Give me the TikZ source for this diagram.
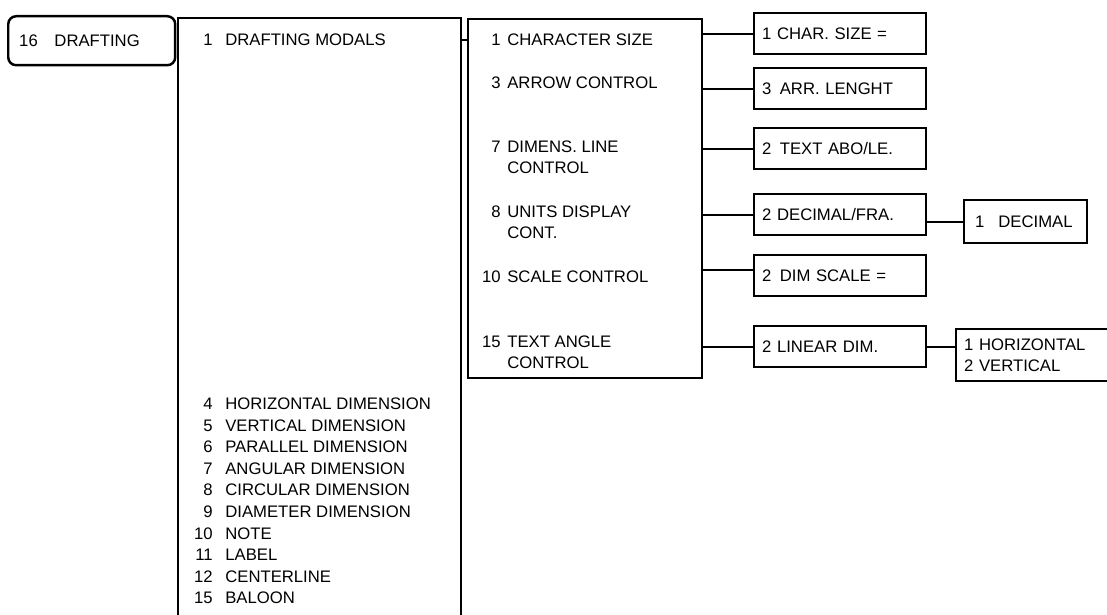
\documentclass[tikz,border=0pt]{standalone}
\usepackage{fontspec}
\setmainfont{Liberation Sans}
\usetikzlibrary{positioning,calc}
\tikzset{
  box/.style={draw=black,line width=1.4pt,fill=white},
  draftbox/.style={box,rounded corners=4.5pt,anchor=north west,minimum width=3.34cm,minimum height=0.98cm,text width=2.9cm,inner xsep=0.22cm,align=left},
  colbox/.style={box,anchor=north west},
  sub/.style={box,anchor=north west,minimum height=0.82cm,text width=3.12cm,inner xsep=0.16cm,align=left},
  conn/.style={line width=1.1pt,draw=black},
  lbl/.style={anchor=west,inner sep=0pt,align=left},
  num/.style={lbl,anchor=east}
}
\begin{document}
\begin{tikzpicture}[x=0.02cm,y=-0.02cm,font=\fontsize{9.5}{12}\selectfont]
  \useasboundingbox (0,0) rectangle (1107,615);
  % menu columns
  \node[draftbox] (draft) at (7,15) {16\quad DRAFTING};
  \node[colbox,minimum width=5.66cm,minimum height=12.3cm] (modals) at (177,17) {};
  \node[num] (mn) at (213,40) {1};
  \node[lbl] (mt) at (225,40) {DRAFTING MODALS};
  \foreach \n/\t [count=\k] in {4/HORIZONTAL DIMENSION,5/VERTICAL DIMENSION,6/PARALLEL DIMENSION,7/ANGULAR DIMENSION,8/CIRCULAR DIMENSION,9/DIAMETER DIMENSION,10/NOTE,11/LABEL,12/CENTERLINE,15/BALOON}{
    \node[num] (ln\k) at (213,{404+21.55*(\k-1)}) {\n};
    \node[lbl] (lt\k) at (225,{404+21.55*(\k-1)}) {\t};
  }
  \node[colbox,minimum width=4.68cm,minimum height=7.18cm] (ctrl) at (467,18) {};
  \node[num] (cn1) at (501,40) {1};  \node[lbl] (ct1) at (507,40) {CHARACTER SIZE};
  \node[num] (cn2) at (501,83) {3};  \node[lbl] (ct2) at (507,83) {ARROW CONTROL};
  \node[num] (cn3) at (501,147) {7}; \node[lbl] (ct3) at (507,157.5) {DIMENS. LINE\\CONTROL};
  \node[num] (cn4) at (501,212) {8}; \node[lbl] (ct4) at (507,222.5) {UNITS DISPLAY\\CONT.};
  \node[num] (cn5) at (501,277) {10}; \node[lbl] (ct5) at (507,277) {SCALE CONTROL};
  \node[num] (cn6) at (501,342) {15}; \node[lbl] (ct6) at (507,352) {TEXT ANGLE\\CONTROL};
  % value boxes
  \node[sub] (chsz) at (753,12) {1 CHAR. SIZE =};
  \node[sub] (arrl) at (753,67) {3\enskip ARR. LENGHT};
  \node[sub] (txab) at (753,127) {2\enskip TEXT ABO/LE.};
  \node[sub] (decf) at (753,193) {2 DECIMAL/FRA.};
  \node[sub] (dims) at (753,254) {2\enskip DIM SCALE =};
  \node[sub] (lind) at (753,325) {2 LINEAR DIM.};
  \node[box,anchor=north west,minimum height=0.86cm,text width=2.02cm,inner xsep=0.22cm,align=left] (decm) at (963,199) {1\enskip\ DECIMAL};
  \node[sub,minimum height=1.04cm,text width=3.2cm] (hv) at (955,328) {1 HORIZONTAL\\2 VERTICAL};
  \coordinate (dimsc) at ([yshift=3pt]dims.west);
  % connectors
  \draw[conn] (mt -| modals.east) -- (mt -| ctrl.west);
  \draw[conn] (chsz.west -| ctrl.east) -- (chsz.west);
  \draw[conn] (arrl.west -| ctrl.east) -- (arrl.west);
  \draw[conn] (txab.west -| ctrl.east) -- (txab.west);
  \draw[conn] (decf.west -| ctrl.east) -- (decf.west);
  \draw[conn] (dimsc -| ctrl.east) -- (dimsc);
  \draw[conn] (lind.west -| ctrl.east) -- (lind.west);
  \draw[conn] (decm.west -| decf.east) -- (decm.west);
  \draw[conn] (lind.east) -- (lind.east -| hv.west);
\end{tikzpicture}
\end{document}
